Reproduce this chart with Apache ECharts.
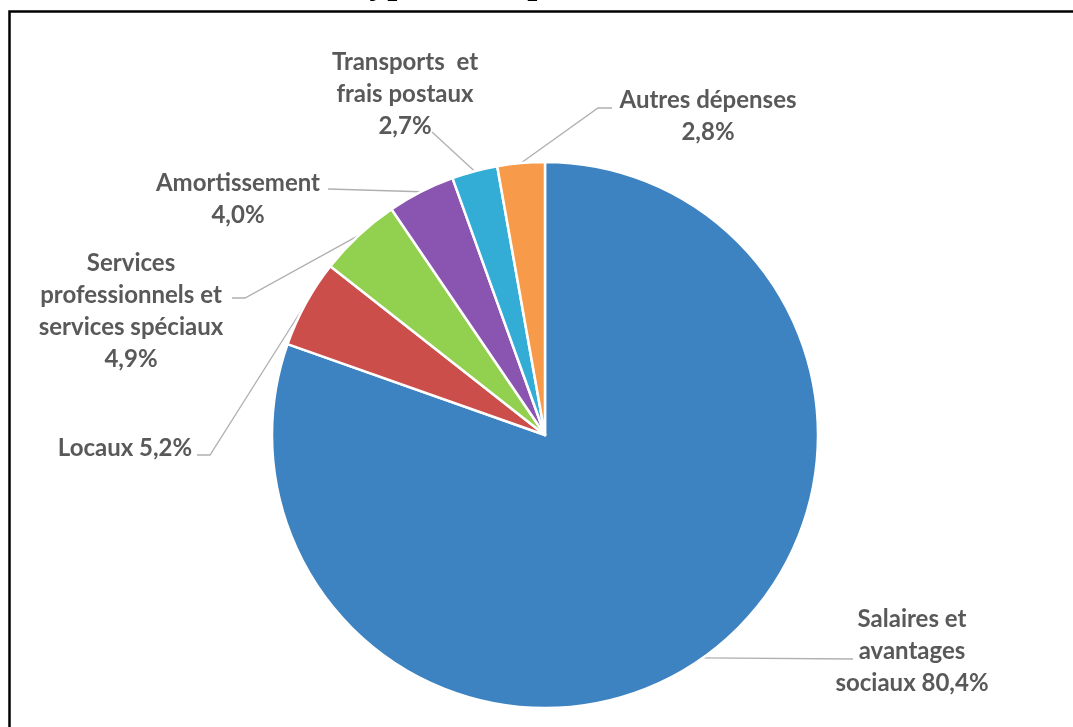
<!DOCTYPE html>
<html>
<head>
<meta charset="utf-8">
<script src="https://cdn.jsdelivr.net/npm/echarts@6/dist/echarts.min.js"></script>
<style>
html,body{margin:0;padding:0;background:#fff;}
#chart{width:1073px;height:727px;}
</style>
</head>
<body>
<div id="chart"></div>
<script>
// ---- data ----
var categories = ['Salaires et avantages sociaux', 'Locaux', 'Services professionnels et services spéciaux', 'Amortissement', 'Transports et frais postaux', 'Autres dépenses'];
var values = [80.4, 5.2, 4.9, 4.0, 2.7, 2.8];
var labelTexts = ['Salaires et\navantages\nsociaux 80,4%', 'Locaux 5,2%', 'Services\nprofessionnels et\nservices spéciaux\n4,9%', 'Amortissement\n4,0%', 'Transports  et\nfrais postaux\n2,7%', 'Autres dépenses\n2,8%'];
var titleText = 'Types de dépenses';

// ---- styles / layout ----
var colors = ['#3D82C1', '#CB4E4B', '#92D050', '#8A55B0', '#33ACD6', '#F79A49'];
// label block centre and leader-line elbow/end
var labelPos = [
  {x: 912, y: 651, elbow: null, end: [853, 659]},
  {x: 125, y: 448, elbow: [210, 455], end: [197, 455]},
  {x: 131, y: 311, elbow: [245, 298], end: [232, 298]},
  {x: 238, y: 199, elbow: null, end: [328, 189]},
  {x: 405, y: 94, elbow: null, end: [432, 132]},
  {x: 708, y: 116, elbow: [598, 108], end: [612, 108]}
];

var chart = echarts.init(document.getElementById('chart'), null, {renderer: 'canvas'});
var data = categories.map(function (c, i) {
  return {name: c, value: values[i], itemStyle: {color: colors[i]}};
});

chart.setOption({
  animation: false,
  backgroundColor: '#fff',
  graphic: [
    {type: 'rect', shape: {x: 9.5, y: 11.5, width: 1200, height: 900}, style: {fill: 'none', stroke: '#000', lineWidth: 2.5}, z: 10},
    {type: 'text', left: 348, top: -34, style: {text: titleText, font: 'bold 36px "Liberation Serif"', fill: '#000'}, z: 10}
  ],
  series: [{
    type: 'pie',
    center: [545, 435],
    radius: 273,
    startAngle: 90,
    clockwise: true,
    data: data,
    itemStyle: {borderColor: '#fff', borderWidth: 2.5},
    label: {
      show: true,
      formatter: function (p) { return labelTexts[p.dataIndex]; },
      fontFamily: 'Lato',
      fontWeight: 'bold',
      fontSize: 24,
      lineHeight: 32,
      color: '#595959',
      align: 'center'
    },
    labelLine: {show: true, lineStyle: {color: '#B0B0B0', width: 1.3}, length: 20, length2: 20},
    labelLayout: function (params) {
      var i = params.dataIndex;
      var lp = labelPos[i];
      var start = params.labelLinePoints ? params.labelLinePoints[0] : [lp.end[0], lp.end[1]];
      var pts = lp.elbow ? [start, lp.elbow, lp.end] : [start, lp.end, lp.end];
      return {
        x: lp.x, y: lp.y, align: 'center', verticalAlign: 'middle',
        labelLinePoints: pts
      };
    },
    emphasis: {disabled: true}
  }]
});
</script>
</body>
</html>
